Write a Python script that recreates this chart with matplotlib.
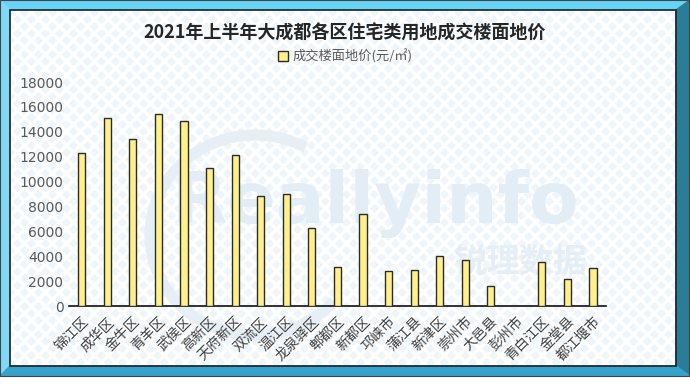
import numpy as np
import matplotlib
matplotlib.use("Agg")
import matplotlib.pyplot as plt
import matplotlib.patches as patches

plt.rcParams['font.family'] = ['Noto Sans CJK SC', 'DejaVu Sans']

districts = ['锦江区', '成华区', '金牛区', '青羊区', '武侯区', '高新区', '天府新区',
             '双流区', '温江区', '龙泉驿区', '郫都区', '新都区', '邛崃市', '蒲江县',
             '新津区', '崇州市', '大邑县', '彭州市', '青白江区', '金堂县', '都江堰市']
price = [12300, 15100, 13450, 15450, 14900, 11070, 12150,
         8850, 8980, 6240, 3170, 7370, 2850, 2920,
         4050, 3700, 1580, 0, 3560, 2200, 3030]
yticks = list(range(0, 18001, 2000))
title = '2021年上半年大成都各区住宅类用地成交楼面地价'
legend_label = '成交楼面地价(元/㎡)'

W, H = 690, 387
fig = plt.figure(figsize=(W / 100, H / 100), dpi=100)
fig.patch.set_facecolor('white')

# background panel with pale diamond texture
bg = fig.add_axes([0, 0, 1, 1], zorder=-10)
bg.set_xlim(0, W)
bg.set_ylim(H, 0)
bg.axis('off')
bg.add_patch(patches.Rectangle((0, 0), W, H, color='white'))
gx, gy = np.meshgrid(np.arange(10, 680, 14), np.arange(12, 368, 14))
bg.scatter(gx.ravel(), gy.ravel(), marker='D', s=22, color='#eef6fb', lw=0)
bg.scatter(gx.ravel() + 7, gy.ravel() + 7, marker='D', s=22, color='#eef6fb', lw=0)

# bevel frame
bg.add_patch(patches.Polygon([(0, 0), (W, 0), (676, 10), (10, 10)], color='#66d4f7'))
bg.add_patch(patches.Polygon([(0, 0), (10, 10), (10, 366), (0, 376)], color='#7fd9f7'))
bg.add_patch(patches.Polygon([(W, 0), (W, 376), (676, 366), (676, 10)], color='#2a7d99'))
bg.add_patch(patches.Polygon([(0, 376), (W, 376), (676, 366), (10, 366)], color='#35a3cc'))
bg.add_patch(patches.Rectangle((10, 10), 666, 356, fill=False, ec='#222222', lw=1.2))
bg.add_patch(patches.Rectangle((0, 0), W - 1, 376, fill=False, ec='#444444', lw=0.8))

# watermark
bg.text(375, 203, 'Reallyinfo', fontsize=52, fontweight='bold', color='#e2edf6',
        ha='center', va='center', family='DejaVu Sans')
bg.text(520, 262, '锐理数据', fontsize=24, fontweight='bold', color='#e4eef6',
        ha='center', va='center')
bg.add_patch(patches.Arc((255, 235), 210, 200, theta1=40, theta2=300,
                         color='#e6eff6', lw=8))

ax = fig.add_axes([0.1, 0.209, 0.778, 0.579])
ax.set_facecolor('none')
x = np.arange(len(districts))
ax.bar(x, price, width=0.28, color='#fff08c', edgecolor='#2b2b2b', lw=1.0,
       label=legend_label, zorder=3)
ax.set_xlim(-0.5, len(districts) - 0.5)
ax.set_ylim(0, 18000)
ax.set_yticks(yticks)
ax.set_yticklabels([str(v) for v in yticks], fontsize=10, color='#595959',
                   family='DejaVu Sans')
ax.set_xticks(x)
ax.set_xticklabels(districts, rotation=45, ha='right', va='top', fontsize=10,
                   color='#404040', rotation_mode='anchor')
ax.tick_params(axis='both', length=0, pad=4)
ax.tick_params(axis='x', pad=6)
for s in ['top', 'right', 'left']:
    ax.spines[s].set_visible(False)
ax.spines['bottom'].set_color('#111111')
ax.spines['bottom'].set_linewidth(1.2)

fig.text(0.5, 0.915, title, ha='center', va='center', fontsize=13,
         fontweight='bold', color='#262626')
fig.legend(loc='center', bbox_to_anchor=(0.5, 0.853), frameon=False,
           fontsize=9.5, handlelength=0.8, handleheight=0.8, handletextpad=0.3,
           labelcolor='#595959')

fig.savefig('out.png', dpi=100)
